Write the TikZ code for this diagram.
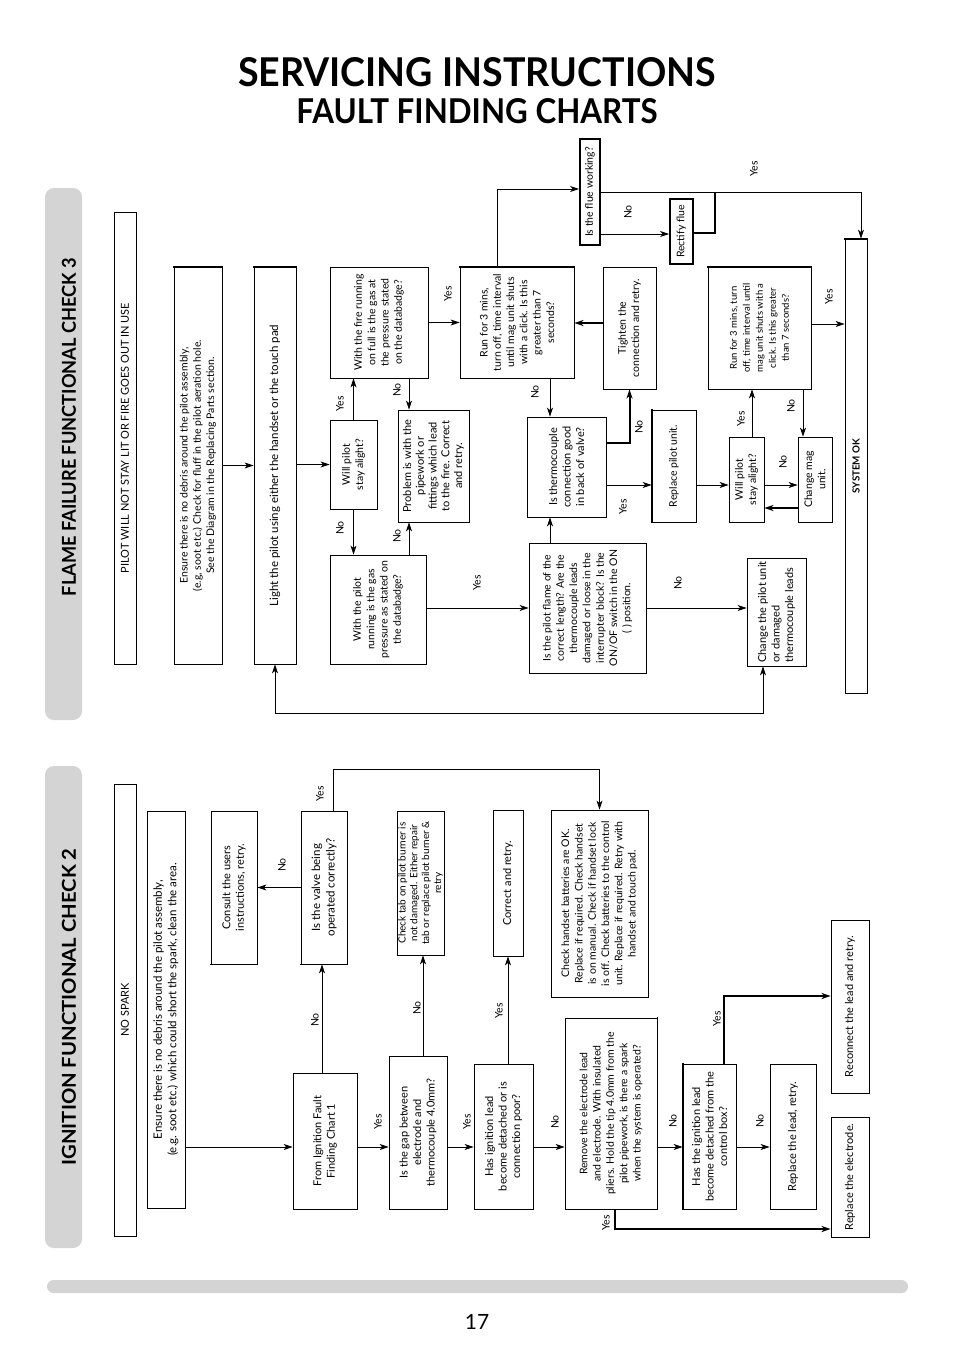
\documentclass[tikz,border=0pt]{standalone}
\usepackage{fontspec}
\setmainfont{Lato}
\usepackage{graphicx}
\usetikzlibrary{arrows.meta, fit}

\begin{document}
\begin{tikzpicture}[x=1pt, y=-1pt,
  >={Stealth[length=9pt, width=6pt, inset=2.5pt]},
  box/.style={draw, line width=0.8pt, inner sep=0pt},
  heavybox/.style={box, line width=1.8pt},
  heavyedge/.style={line width=1.8pt, line cap=rect},
  txt/.style={rotate=90, align=center, inner sep=0pt, font=\fontsize{10.5}{13.3}\selectfont},
  bigtxt/.style={txt, font=\fontsize{11.5}{14.5}\selectfont},
  midtxt/.style={txt, font=\fontsize{11}{13.5}\selectfont},
  smalltxt/.style={txt, font=\fontsize{9.5}{13}\selectfont},
  capstxt/.style={rotate=90, inner sep=0pt, font=\fontsize{11}{13}\selectfont},
  lbl/.style={rotate=90, inner sep=0pt, font=\fontsize{10.5}{12}\selectfont},
  arr/.style={line width=0.8pt, ->},
  thickarr/.style={line width=2pt, ->},
  greybar/.style={fill=black!17, inner sep=0pt, rounded corners=9pt}
]
\path[use as bounding box, fill=white] (0,0) rectangle (954,1350);

\node (title) at (477,72) {\resizebox{478pt}{29pt}{\bfseries SERVICING INSTRUCTIONS}};
\node (subtitle) at (477,111) {\resizebox{361pt}{25pt}{\bfseries FAULT FINDING CHARTS}};

\node[greybar, fit={(45,188) (82,720)}] (barA) {};
\node[rotate=90] (barAtxt) at (69,427) {\resizebox{338pt}{14pt}{\bfseries FLAME FAILURE FUNCTIONAL CHECK 3}};
\node[greybar, fit={(45,766) (82,1248)}] (barB) {};
\node[rotate=90] (barBtxt) at (69,1007) {\resizebox{317pt}{14pt}{\bfseries IGNITION FUNCTIONAL CHECK 2}};
\node[greybar, rounded corners=6.5pt, fit={(47,1280) (908,1293)}] (footbar) {};
\node[font=\fontsize{21}{24}\selectfont] (pageno) at (477,1322) {17};

\node[box, fit={(114,212) (136,664)}, label={[capstxt]center:{PILOT WILL NOT STAY LIT OR FIRE GOES OUT IN USE}}] (stuck) {};
\node[box, fit={(174,267) (222,664)}, label={[txt]center:{Ensure there is no debris around the pilot assembly,\\(e.g, soot etc.) Check for fluff in the pilot aeration hole.\\See the Diagram in the Replacing Parts section.}}] (clean) {};
\node[box, fit={(254,267) (296,664)}, label={[bigtxt]center:{Light the pilot using either the handset or the touch pad}}] (light) {};
\node[box, fit={(330,420) (377,509)}, label={[txt]center:{Will pilot\\stay alight?}}] (alightA) {};
\node[box, fit={(330,267) (428,378)}, label={[txt]center:{With the fire running\\on full is the gas at\\the pressure stated\\on the databadge?}}] (fullgas) {};
\node[box, fit={(398,410) (469,522)}, label={[txt, font=\fontsize{11}{12.8}\selectfont]center:{Problem is with the\\pipework or\\fittings which lead\\to the fire. Correct\\and retry.}}] (pipework) {};
\node[box, fit={(330,555) (426,664)}, label={[txt]center:{With the pilot\\running is the gas\\pressure as stated on\\the databadge?}}] (pilotgas) {};
\node[box, fit={(460,267) (574,378)}, label={[txt]center:{Run for 3 mins,\\turn off, time interval\\until mag unit shuts\\with a click. Is this\\greater than 7\\seconds?}}] (timerA) {};
\node[heavybox, fit={(580,139) (600,245)}, label={[txt]center:{Is the flue working?}}] (flue) {};
\node[heavybox, fit={(670,199) (693,264)}, label={[txt]center:{Rectify flue}}] (rectify) {};
\node[box, fit={(603,267) (656,389)}, label={[txt]center:{Tighten the\\connection and retry.}}] (tighten) {};
\node[box, fit={(527,417) (606,517)}, label={[midtxt]center:{Is thermocouple\\connection good\\in back of valve?}}] (thermo) {};
\node[box, fit={(529,543) (646,673)}, label={[txt]center:{Is the pilot flame of the\\correct length? Are the\\thermocouple leads\\damaged or loose in the\\interrupter block? Is the\\ON/OF switch in the ON\\( ) position.}}] (flame) {};
\node[box, fit={(652,410) (696,522)}, label={[txt]center:{Replace pilot unit.}}] (replpilot) {};
\node[box, fit={(729,437) (764,522)}, label={[txt]center:{Will pilot\\stay alight?}}] (alightB) {};
\node[box, fit={(798,437) (832,522)}, label={[txt]center:{Change mag\\unit.}}] (mag) {};
\node[box, fit={(708,267) (811,389)}, label={[smalltxt]center:{Run for 3 mins, turn\\off, time interval until\\mag unit shuts with a\\click. Is this greater\\than 7 seconds?}}] (timerB) {};
\node[box, fit={(747,558) (806,666)}, label={[midtxt, align=left]center:{Change the pilot unit\\or damaged\\thermocouple leads}}] (leads) {};
\node[box, fit={(845,239) (867,693)}, label={[capstxt, font=\fontsize{9.8}{12}\selectfont\bfseries]center:{SYSTEM OK}}] (sysok) {};

\draw[heavyedge] (clean.north west) -- (clean.north east);
\draw[heavyedge] (light.north west) -- (light.north east);
\draw[heavyedge] (timerA.north west) -- (timerA.north east);
\draw[heavyedge] (timerB.north west) -- (timerB.north east);
\draw[heavyedge] (sysok.north west) -- (sysok.north east);
\draw[heavyedge] (replpilot.north west) -- (replpilot.south west);

\draw[arr] (clean.east) -- (light.west |- clean.east);
\draw[arr] (light.east |- alightA.west) -- (alightA.west);
\draw[arr] (alightA.north) -- (alightA.north |- fullgas.south);
\draw[arr] (alightA.south) -- (alightA.south |- pilotgas.north);
\draw[arr] (fullgas.south -| 409,0) -- (pipework.north -| 409,0);
\draw[arr] (pilotgas.north -| 409,0) -- (pipework.south -| 409,0);
\draw[arr] (fullgas.east) -- (timerA.west);
\draw[arr] (pilotgas.east |- 0,608) -- (flame.west |- 0,608);
\draw[arr] (timerA.south -| 550,0) -- (thermo.north -| 550,0);
\draw[arr] (flame.north -| 550,0) -- (thermo.south -| 550,0);
\draw[thickarr] (thermo.east |- 0,443) -| (tighten.south);
\draw[arr] (thermo.east |- 0,485) -- (replpilot.west |- 0,485);
\draw[thickarr] (tighten.west |- 0,323) -- (timerA.east |- 0,323);
\draw[arr] (timerA.north -| 497,0) |- (flue.west |- 0,189);
\draw[arr] (flue.east |- 0,234) -- (rectify.west |- 0,234);
\draw[arr] (flue.east |- 0,192) -| (sysok.north -| 861,0);
\coordinate (flueok) at (715,192);
\draw[line width=2pt] (rectify.east |- 0,233) -| (flueok);
\draw[arr] (replpilot.east |- 0,485) -- (alightB.west |- 0,485);
\draw[arr] (alightB.east |- 0,485) -- (mag.west |- 0,485);
\draw[thickarr] (mag.west |- 0,508) -- (alightB.east |- 0,508);
\draw[arr] (alightB.north -| 752,0) -- (timerB.south -| 752,0);
\draw[arr] (timerB.south -| 803,0) -- (mag.north -| 803,0);
\draw[arr] (timerB.east |- 0,324) -- (sysok.west |- 0,324);
\draw[arr] (flame.east |- 0,608) -- (leads.west |- 0,608);
\draw[line width=0.8pt, <->] (leads.south -| 763,0) |- (light.south |- 0,713) -- (light.south);

\node[lbl] (yesFull) at (340,404) {Yes};
\node[lbl] (noPilotgas) at (340,528) {No};
\node[lbl] (noPipeA) at (397,390) {No};
\node[lbl] (noPipeB) at (397,536) {No};
\node[lbl] (yesTimerA) at (448,294) {Yes};
\node[lbl] (yesFlame) at (477,583) {Yes};
\node[lbl] (noThermo) at (535,392) {No};
\node[lbl] (noTighten) at (639,427) {No};
\node[lbl] (yesRepl) at (623,507) {Yes};
\node[lbl] (noRectify) at (628,212) {No};
\node[lbl] (yesFlue) at (754,169) {Yes};
\node[lbl] (noMag) at (783,462) {No};
\node[lbl] (yesTimerB) at (741,419) {Yes};
\node[lbl] (noMagB) at (791,406) {No};
\node[lbl] (yesSys) at (829,297) {Yes};
\node[lbl] (noLeads) at (678,583) {No};

\node[box, fit={(114,784) (136,1236)}, label={[capstxt]center:{NO SPARK}}] (nospark) {};
\node[box, fit={(147,811) (185,1208)}, label={[bigtxt]center:{Ensure there is no debris around the pilot assembly,\\(e.g. soot etc.) which could short the spark, clean the area.}}] (cleanB) {};
\node[box, fit={(293,1073) (357,1209)}, label={[midtxt]center:{From Ignition Fault\\Finding Chart 1}}] (fromchart) {};
\node[box, fit={(301,811) (347,964)}, label={[bigtxt]center:{Is the valve being\\operated correctly?}}] (valve) {};
\node[box, fit={(211,811) (257,964)}, label={[midtxt]center:{Consult the users\\instructions, retry.}}] (consult) {};
\node[box, fit={(389,1056) (447,1209)}, label={[midtxt]center:{Is the gap between\\electrode and\\thermocouple 4.0mm?}}] (gap) {};
\node[box, fit={(397,811) (444,955)}, label={[txt, font=\fontsize{10}{11.8}\selectfont]center:{Check tab on pilot burner is\\not damaged. Either repair\\tab or replace pilot burner \&\\retry}}] (tab) {};
\node[box, fit={(493,810) (523,956)}, label={[midtxt]center:{Correct and retry.}}] (correct) {};
\node[box, fit={(551,810) (648,997)}, label={[txt]center:{Check handset batteries are OK.\\Replace if required. Check handset\\is on manual. Check if handset lock\\is off. Check batteries to the control\\unit. Replace if required. Retry with\\handset and touch pad.}}] (handset) {};
\node[box, fit={(474,1064) (533,1209)}, label={[midtxt]center:{Has ignition lead\\become detached or is\\connection poor?}}] (leadpoor) {};
\node[box, fit={(565,1018) (657,1209)}, label={[txt]center:{Remove the electrode lead\\and electrode. With insulated\\pliers. Hold the tip 4.0mm from the\\pilot pipework, is there a spark\\when the system is operated?}}] (spark) {};
\node[box, fit={(683,1064) (736,1209)}, label={[midtxt]center:{Has the ignition lead\\become detached from the\\control box?}}] (leadbox) {};
\node[box, fit={(770,1064) (816,1209)}, label={[midtxt]center:{Replace the lead, retry.}}] (newlead) {};
\node[box, fit={(831,920) (869,1093)}, label={[midtxt]center:{Reconnect the lead and retry.}}] (reconnect) {};
\node[box, fit={(831,1117) (869,1237)}, label={[midtxt]center:{Replace the electrode.}}] (electrode) {};

\draw[heavyedge] (consult.south west) -- (consult.south east);
\draw[heavyedge] (valve.south west) -- (valve.south east);
\draw[heavyedge] (spark.north east) -- (spark.south east);
\draw[heavyedge] (leadbox.north west) -- (leadbox.south west);

\draw[arr] (cleanB.east |- 0,1147) -- (fromchart.west |- 0,1147);
\draw[arr] (fromchart.north -| 322,0) -- (valve.south -| 322,0);
\draw[arr] (valve.west) -- (consult.east);
\draw[arr] (valve.north -| 333,0) |- (handset.north |- 0,769) -- (handset.north);
\draw[arr] (fromchart.east |- 0,1147) -- (gap.west |- 0,1147);
\draw[arr] (gap.north -| 423,0) -- (tab.south -| 423,0);
\draw[arr] (gap.east |- 0,1147) -- (leadpoor.west |- 0,1147);
\draw[arr] (leadpoor.north -| 508,0) -- (correct.south);
\draw[arr] (leadpoor.east |- 0,1147) -- (spark.west |- 0,1147);
\draw[arr] (spark.east |- 0,1147) -- (leadbox.west |- 0,1147);
\draw[thickarr] (spark.south -| 615,0) |- (electrode.west |- 0,1229);
\draw[thickarr] (leadbox.north -| 724,0) |- (reconnect.west |- 0,996);
\draw[arr] (leadbox.east |- 0,1147) -- (newlead.west |- 0,1147);

\node[lbl] (noFrom) at (315,1020) {No};
\node[lbl] (noConsult) at (282,865) {No};
\node[lbl] (yesValve) at (320,794) {Yes};
\node[lbl] (yesGap) at (378,1122) {Yes};
\node[lbl] (noTab) at (417,1008) {No};
\node[lbl] (yesLead) at (467,1122) {Yes};
\node[lbl] (yesCorrect) at (499,1011) {Yes};
\node[lbl] (noSpark) at (555,1122) {No};
\node[lbl] (noLeadbox) at (673,1121) {No};
\node[lbl] (noNewlead) at (760,1121) {No};
\node[lbl] (yesReconnect) at (717,1019) {Yes};
\node[lbl] (yesElectrode) at (606,1223) {Yes};
\end{tikzpicture}
\end{document}
